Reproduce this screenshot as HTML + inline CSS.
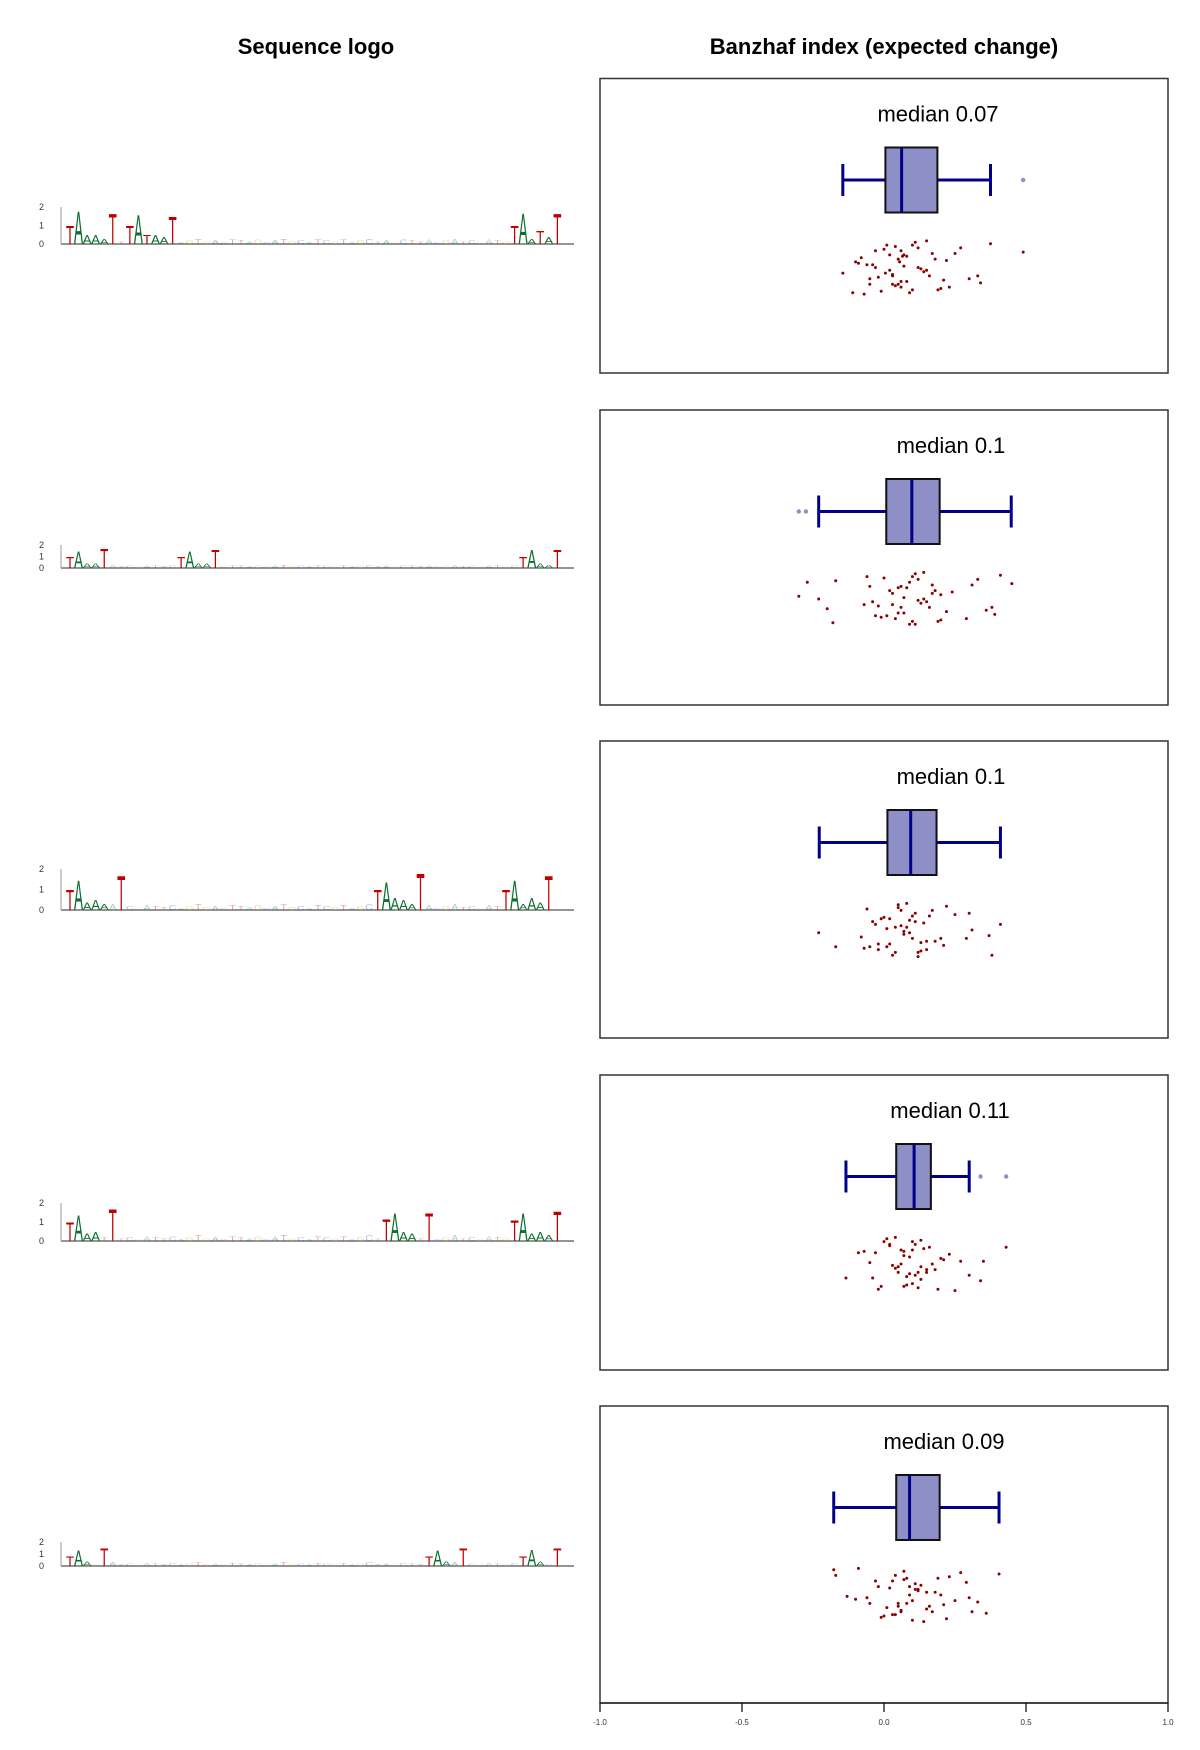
<!DOCTYPE html>
<html><head><meta charset="utf-8"><style>
html,body{margin:0;padding:0;background:#fff;}
svg{display:block;font-family:"Liberation Sans",sans-serif;}
</style></head><body>
<svg id="chart" width="1200" height="1750" viewBox="0 0 1200 1750" xmlns="http://www.w3.org/2000/svg">
<text x="316" y="54" font-size="22" font-weight="bold" text-anchor="middle">Sequence logo</text>
<text x="884" y="54" font-size="22" font-weight="bold" text-anchor="middle">Banzhaf index (expected change)</text>
<g id="panels"></g>
</svg>
<script>
// ----- data -----
const medianLabels = ["median 0.07","median 0.1","median 0.1","median 0.11","median 0.09"];
const whiskerLo = [-0.145,-0.23,-0.228,-0.134,-0.177];
const q1 = [0.005,0.008,0.012,0.043,0.043];
const med = [0.062,0.098,0.094,0.106,0.09];
const q3 = [0.188,0.196,0.185,0.165,0.196];
const whiskerHi = [0.375,0.448,0.41,0.30,0.405];
const outliers = [[0.49],[-0.30,-0.275],[],[0.34,0.43],[]];
const points1 = [-0.145,-0.11,-0.1,-0.09,-0.08,-0.07,-0.06,-0.05,-0.05,-0.04,-0.03,-0.03,-0.02,-0.01,0,0.005,0.01,0.02,0.02,0.03,0.03,0.04,0.04,0.05,0.05,0.055,0.06,0.06,0.065,0.07,0.07,0.08,0.08,0.09,0.1,0.1,0.11,0.12,0.13,0.14,0.15,0.15,0.16,0.17,0.18,0.19,0.2,0.21,0.22,0.23,0.25,0.27,0.3,0.33,0.34,0.375,0.49,0.03,0.06,0.12];
const points2 = [-0.30,-0.27,-0.23,-0.2,-0.18,-0.17,-0.07,-0.06,-0.05,-0.04,-0.03,-0.02,-0.01,0,0.01,0.02,0.03,0.04,0.05,0.05,0.06,0.07,0.07,0.08,0.09,0.1,0.1,0.11,0.12,0.12,0.13,0.14,0.15,0.16,0.17,0.18,0.19,0.2,0.22,0.24,0.29,0.31,0.33,0.36,0.38,0.39,0.41,0.45,0.06,0.09,0.14,0.03,0.11,0.17,0.2];
const points3 = [-0.23,-0.17,-0.08,-0.07,-0.06,-0.05,-0.04,-0.03,-0.02,-0.02,-0.01,0,0.01,0.02,0.02,0.03,0.04,0.05,0.05,0.06,0.07,0.07,0.08,0.09,0.1,0.1,0.11,0.12,0.13,0.13,0.14,0.15,0.16,0.17,0.18,0.2,0.21,0.22,0.25,0.29,0.3,0.31,0.37,0.38,0.41,0.06,0.09,0.12,0.04,0.15,0.01,0.08,0.11];
const points4 = [-0.134,-0.09,-0.07,-0.05,-0.04,-0.03,-0.02,-0.01,0,0.01,0.02,0.03,0.04,0.04,0.05,0.05,0.06,0.07,0.07,0.08,0.08,0.09,0.1,0.1,0.11,0.11,0.12,0.13,0.13,0.14,0.15,0.16,0.17,0.18,0.19,0.2,0.21,0.23,0.25,0.27,0.3,0.34,0.35,0.43,0.06,0.09,0.12,0.02,0.15,0.1,0.07,0.13];
const points5 = [-0.177,-0.17,-0.13,-0.1,-0.09,-0.06,-0.05,-0.03,-0.02,-0.01,0,0.01,0.02,0.03,0.03,0.04,0.05,0.05,0.06,0.07,0.07,0.08,0.08,0.09,0.1,0.1,0.11,0.12,0.13,0.14,0.15,0.16,0.17,0.18,0.19,0.2,0.21,0.22,0.23,0.25,0.27,0.29,0.3,0.31,0.33,0.36,0.405,0.06,0.09,0.12,0.04,0.15,0.11];
const allPoints = [points1,points2,points3,points4,points5];
const jitter = [0.2,-0.5,0.7,-0.1,0.4,-0.8,0.1,0.9,-0.3,0.5,-0.6,0.3,-0.9,0.6,-0.2,0.8,-0.4,0.0,0.55,-0.7,0.25,-0.15,0.75,-0.45,0.35,-0.85,0.05,0.65,-0.35,0.45,-0.05,0.85,-0.55,0.15,-0.75,0.95,-0.25,0.5,-0.65,0.3,-0.95,0.6,-0.1,0.7,-0.4,0.2,-0.6,0.1,-0.3,0.4,-0.5,0.9,-0.8,0.0,0.3,-0.2,0.6,-0.7,0.8,-0.45];
const axisTicks = [-1,-0.5,0,0.5,1];
const axisTickLabels = ["-1.0","-0.5","0.0","0.5","1.0"];
// logo data: [position, letter, bits]
const logo1 = [[0,"T",1.0],[1,"A",1.8],[2,"A",0.5],[3,"A",0.5],[4,"A",0.3],[5,"T",1.7],[7,"T",1.0],[8,"A",1.6],[9,"T",0.5],[10,"A",0.5],[11,"A",0.4],[12,"T",1.5],[52,"T",1.0],[53,"A",1.7],[54,"A",0.3],[55,"T",0.7],[56,"A",0.4],[57,"T",1.7]];
const logo2 = [[0,"T",1.0],[1,"A",1.5],[2,"A",0.4],[3,"A",0.4],[4,"T",1.7],[13,"T",1.0],[14,"A",1.5],[15,"A",0.4],[16,"A",0.4],[17,"T",1.6],[53,"T",1.0],[54,"A",1.6],[55,"A",0.4],[56,"A",0.3],[57,"T",1.6]];
const logo3 = [[0,"T",1.0],[1,"A",1.5],[2,"A",0.4],[3,"A",0.5],[4,"A",0.3],[6,"T",1.7],[36,"T",1.0],[37,"A",1.4],[38,"A",0.6],[39,"A",0.5],[40,"A",0.3],[41,"T",1.8],[51,"T",1.0],[52,"A",1.5],[53,"A",0.3],[54,"A",0.6],[55,"A",0.4],[56,"T",1.7]];
const logo4 = [[0,"T",1.0],[1,"A",1.4],[2,"A",0.4],[3,"A",0.5],[5,"T",1.7],[37,"T",1.2],[38,"A",1.5],[39,"A",0.5],[40,"A",0.4],[42,"T",1.5],[52,"T",1.1],[53,"A",1.5],[54,"A",0.4],[55,"A",0.5],[56,"A",0.3],[57,"T",1.6]];
const logo5 = [[0,"T",0.8],[1,"A",1.3],[2,"A",0.4],[4,"T",1.5],[42,"T",0.8],[43,"A",1.3],[44,"A",0.4],[46,"T",1.5],[53,"T",0.8],[54,"A",1.4],[55,"A",0.4],[57,"T",1.5]];
const logos = [logo1,logo2,logo3,logo4,logo5];
const bgLetters = "TACGTATCGATTCAGTGACTTAGCATGCATCGTAGCTAGCTTACGATCGATGCATGC";
const bgHeights = [0.2,0.15,0.25,0.1,0.2,0.3,0.15,0.2,0.1,0.25];

// ----- layout -----
const NS="http://www.w3.org/2000/svg";
const boxTops=[78.5,410,741,1075,1406], boxH=[294.5,295,297,295,297];
const labelX=[938,951,951,950,944];
const logoBase=[244,568,910,1241,1566], logoBitPx=[18.5,11.5,20.5,19,12];
const X0=600, X1=1168;
const xs = v => X0 + (v+1)/2*(X1-X0);
const lx = i => 70 + i*8.55;
const root=document.getElementById('panels');
function mk(tag,attrs,parent){const e=document.createElementNS(NS,tag);for(const k in attrs)e.setAttribute(k,attrs[k]);(parent||root).appendChild(e);return e;}

for(let p=0;p<5;p++){
  const g=mk('g',{});
  
  
  const lg=mk('g',{},g);
  
  
  const b=logoBase[p], u=logoBitPx[p];
  const ax=mk('line',{x1:61,y1:b,x2:574,y2:b,stroke:'#555','stroke-width':1.2},lg);
  
  
  const yax=mk('line',{x1:61,y1:b,x2:61,y2:b-2*u,stroke:'#999','stroke-width':1},lg);
  
  
  for(let t=0;t<=2;t++){
    const tl=mk('text',{x:44,y:b-t*u+3,'font-size':Math.min(9,u*0.8),'text-anchor':'end',fill:'#333'},lg);
    tl.textContent=String(t);
    
    
  }
  const strong={};
  logos[p].forEach(d=>strong[d[0]]=d);
  for(let i=0;i<58;i++){
    let letter,h,op,sx;
    if(strong[i]){letter=strong[i][1];h=strong[i][2];op=1;sx=1.35;}
    else{letter=bgLetters[i];h=bgHeights[i%bgHeights.length];op=0.35;sx=1.1;}
    const col = letter==="A"?"#0a6e2e":letter==="T"?"#c00000":letter==="C"?"#2040b0":"#d09000";
    const sy=(h*u)/7.16;
    const t=mk('text',{'font-size':10,fill:col,'fill-opacity':op,'text-anchor':'middle',
      transform:`translate(${lx(i)},${b}) scale(${sx},${sy})`},lg);
    t.textContent=letter;
    
    
  }
  const top=boxTops[p], H=boxH[p];
  const fr=mk('rect',{x:X0,y:top,width:X1-X0,height:H,fill:'none',stroke:'#333','stroke-width':1.5},g);
  
  
  const ml=mk('text',{x:labelX[p],y:top+43,'font-size':22,'text-anchor':'middle'},g);
  ml.textContent=medianLabels[p];
  
  
  const cy=top+101.5;
  const wl=mk('line',{x1:xs(whiskerLo[p]),y1:cy,x2:xs(q1[p]),y2:cy,stroke:'#00008b','stroke-width':3},g);
  
  
  const wh=mk('line',{x1:xs(q3[p]),y1:cy,x2:xs(whiskerHi[p]),y2:cy,stroke:'#00008b','stroke-width':3},g);
  
  
  [whiskerLo[p],whiskerHi[p]].forEach(v=>{
    const c=mk('line',{x1:xs(v),y1:cy-16,x2:xs(v),y2:cy+16,stroke:'#00008b','stroke-width':3},g);
    
    
  });
  const bx=mk('rect',{x:xs(q1[p]),y:cy-32.5,width:xs(q3[p])-xs(q1[p]),height:65,fill:'#8d8fc6',stroke:'#111','stroke-width':2},g);
  
  
  const md=mk('line',{x1:xs(med[p]),y1:cy-32,x2:xs(med[p]),y2:cy+32,stroke:'#00008b','stroke-width':3},g);
  
  
  outliers[p].forEach(v=>{
    const o=mk('circle',{cx:xs(v),cy:cy,r:2.2,fill:'#8d8fc6'},g);
    
    
  });
  const sy=top+189;
  allPoints[p].forEach((v,i)=>{
    const j=jitter[(i*7+p*3)%jitter.length];
    const pt=mk('circle',{cx:xs(v),cy:sy+j*28,r:1.5,fill:'#8b0000'},g);
    
    
  });
}
const ay=boxTops[4]+boxH[4];
const axl=mk('line',{x1:X0,y1:ay,x2:X1,y2:ay,stroke:'#444','stroke-width':2});


axisTicks.forEach((v,i)=>{
  const t=mk('line',{x1:xs(v),y1:ay,x2:xs(v),y2:ay+9,stroke:'#000','stroke-width':1.2});
  
  
  const l=mk('text',{x:xs(v),y:ay+22,'font-size':8,'text-anchor':'middle',fill:'#333'});
  l.textContent=axisTickLabels[i];
  
  
});
</script>
</body></html>
